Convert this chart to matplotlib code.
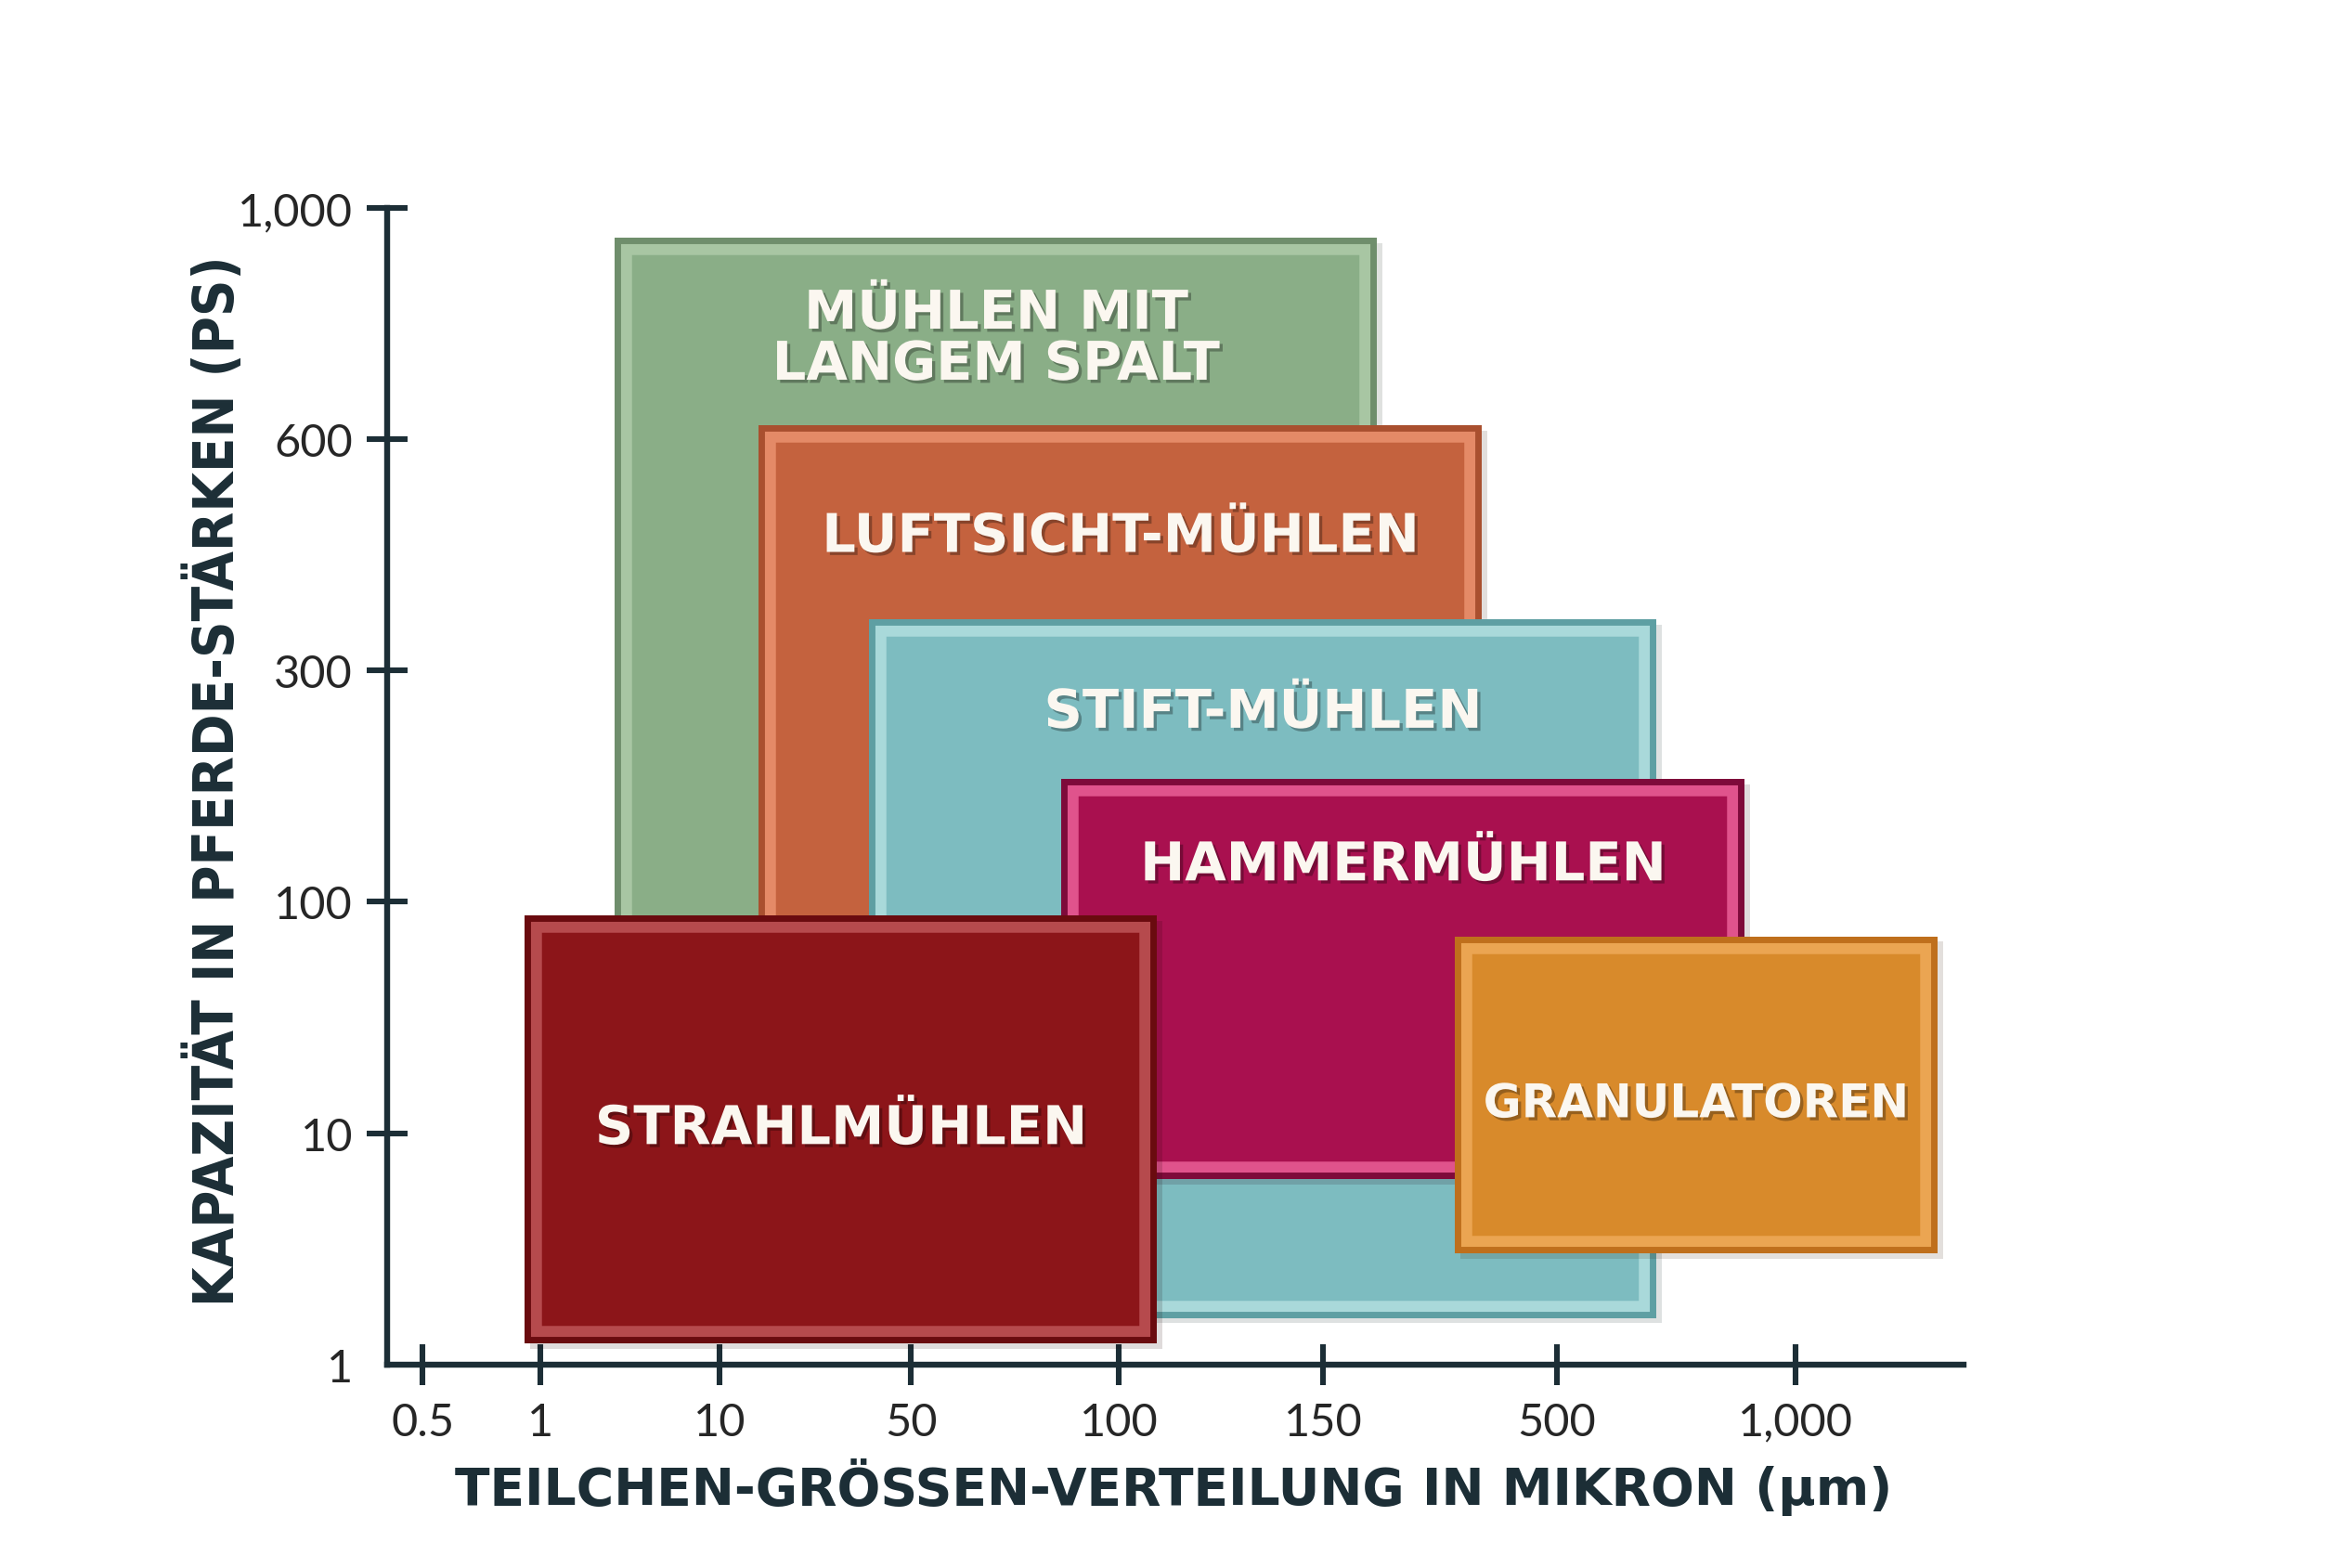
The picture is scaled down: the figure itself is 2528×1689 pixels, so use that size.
import matplotlib
matplotlib.use("Agg")
import matplotlib.pyplot as plt
from matplotlib.patches import Rectangle
import matplotlib.patheffects as pe

# Mühlentypen: Bereiche in Achsenpositionen (x: Teilchengröße, y: Leistung)
methods = ["MÜHLEN MIT\nLANGEM SPALT", "LUFTSICHT-MÜHLEN", "STIFT-MÜHLEN",
           "HAMMERMÜHLEN", "STRAHLMÜHLEN", "GRANULATOREN"]
x_left = [2.45, 4.00, 5.19, 7.26, 1.48, 11.50]
x_right = [10.66, 11.79, 13.67, 14.62, 8.29, 16.70]
y_bottom = [1.50, 1.50, 0.20, 0.80, 0.09, 0.48]
y_top = [4.87, 4.06, 3.22, 2.53, 1.94, 1.85]
label_y = [4.43, 3.575, 2.815, 2.155, 1.015, 1.125]

x_tick_labels = ["0.5", "1", "10", "50", "100", "150", "500", "1,000"]
x_tick_pos = [0.38, 1.65, 3.58, 5.64, 7.88, 10.08, 12.60, 15.17]
y_tick_labels = ["1", "10", "100", "300", "600", "1,000"]
y_tick_pos = [0, 1, 2, 3, 4, 5]

fills = ["#8aae87", "#c4623e", "#7dbcc0", "#a9104f", "#8c1519", "#d88a2b"]
bands = ["#a8c6a3", "#e48a67", "#a9d9da", "#e0538c", "#b64a4d", "#eba552"]
edges = ["#6f8e6c", "#a9502f", "#5e9fa3", "#7e0a3a", "#6a0b0f", "#bf6f1c"]
label_size = [20.7, 20.7, 20.7, 20.7, 20.7, 18.0]

dark = "#1c2e36"

fig = plt.figure(figsize=(12.64, 8.45), dpi=200)
ax = fig.add_axes([0.16507, 0.12976, 0.67156, 0.73710])
ax.set_xlim(0, 16.98)
ax.set_ylim(0, 5)

for i in range(len(methods)):
    x0, x1 = x_left[i], x_right[i]
    y0, y1 = y_bottom[i], y_top[i]
    z = 2 + i
    base = Rectangle((x0, y0), x1 - x0, y1 - y0, fc=edges[i], ec="none", zorder=z,
                     path_effects=[pe.SimplePatchShadow(offset=(2, -2), alpha=0.14),
                                   pe.Normal()])
    ax.add_patch(base)
    # heller Rand innen: Strich wird auf das Rechteck selbst beschnitten
    body = Rectangle((x0, y0), x1 - x0, y1 - y0, fc=fills[i], ec=bands[i],
                     lw=13.5, joinstyle="miter", zorder=z)
    ax.add_patch(body)
    body.set_clip_path(body)
    rim = Rectangle((x0, y0), x1 - x0, y1 - y0, fc="none", ec=edges[i],
                    lw=5, joinstyle="miter", zorder=z)
    ax.add_patch(rim)
    rim.set_clip_path(rim)
    ax.text((x0 + x1) / 2, label_y[i], methods[i], ha="center", va="center",
            color="#fbf7f0", fontsize=label_size[i], fontweight="bold",
            family="DejaVu Sans", linespacing=1.0, zorder=z + 0.5,
            path_effects=[pe.withSimplePatchShadow(offset=(1.2, -1.2),
                                                   shadow_rgbFace="black", alpha=0.3)])

for s in ["top", "right"]:
    ax.spines[s].set_visible(False)
for s in ["left", "bottom"]:
    ax.spines[s].set_color(dark)
    ax.spines[s].set_linewidth(2.3)

ax.set_xticks(x_tick_pos)
ax.set_xticklabels(x_tick_labels, fontsize=17.5, fontweight="normal",
                   family=["Lato", "DejaVu Sans"], color="#262626")
ax.set_yticks(y_tick_pos)
ax.set_yticklabels(y_tick_labels, fontsize=17.5, fontweight="normal",
                   family=["Lato", "DejaVu Sans"], color="#262626")
ax.tick_params(axis="both", direction="inout", length=15.8, width=2.2, color=dark)
ax.tick_params(axis="x", pad=6.5)
ax.tick_params(axis="y", pad=5.5)
ax.yaxis.get_major_ticks()[0].tick1line.set_visible(False)

fig.text(0.0922, 0.502, "KAPAZITÄT IN PFERDE-STÄRKEN (PS)", rotation=90,
         ha="center", va="center", fontsize=22.0, fontweight="bold",
         fontstretch="condensed",
         family=["DejaVu Sans Condensed", "Liberation Sans Narrow", "DejaVu Sans"],
         color=dark)
fig.text(0.5, 0.052, "TEILCHEN-GRÖSSEN-VERTEILUNG IN MIKRON (µm)",
         ha="center", va="center", fontsize=19.85, fontweight="bold",
         family="DejaVu Sans", color=dark)

fig.savefig("out.png", dpi=200, facecolor="white")
